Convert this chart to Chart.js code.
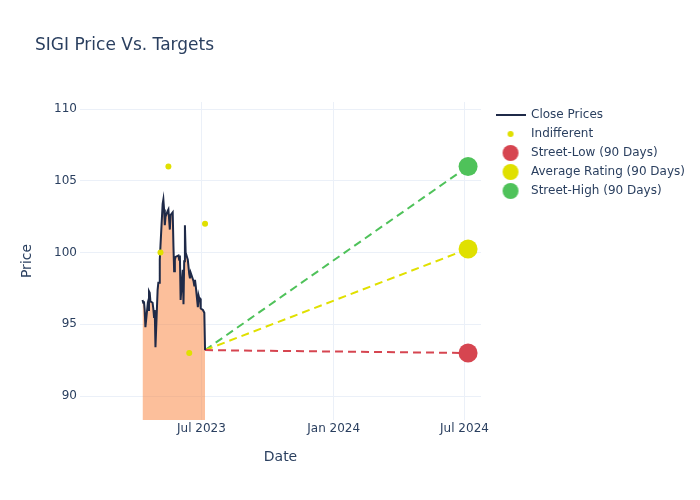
<!DOCTYPE html>
<html>
<head>
<meta charset="utf-8">
<script src="https://cdn.jsdelivr.net/npm/chart.js@4"></script>
<style>
  body { margin: 0; background: #fff; }
  #wrap { width: 700px; height: 500px; }
</style>
</head>
<body>
<div id="wrap"><canvas id="chart" width="700" height="500"></canvas></div>
<script>
// close prices (daily)
const closeDates = [
  '2023-04-10','2023-04-11','2023-04-12','2023-04-13','2023-04-14',
  '2023-04-17','2023-04-18','2023-04-19','2023-04-20','2023-04-21',
  '2023-04-24','2023-04-25','2023-04-26','2023-04-27','2023-04-28',
  '2023-05-01','2023-05-02','2023-05-03','2023-05-04','2023-05-05',
  '2023-05-08','2023-05-09','2023-05-10','2023-05-11','2023-05-12',
  '2023-05-15','2023-05-16','2023-05-17','2023-05-18','2023-05-19',
  '2023-05-22','2023-05-23','2023-05-24','2023-05-25','2023-05-26',
  '2023-05-30','2023-05-31','2023-06-01','2023-06-02',
  '2023-06-05','2023-06-06','2023-06-07','2023-06-08','2023-06-09',
  '2023-06-12','2023-06-13','2023-06-14','2023-06-15','2023-06-16',
  '2023-06-20','2023-06-21','2023-06-22','2023-06-23',
  '2023-06-26','2023-06-27','2023-06-28','2023-06-29','2023-06-30',
  '2023-07-03','2023-07-05','2023-07-06'
];
const closePrices = [
  96.7, 96.5, 96.6, 96.0, 94.8,
  96.3, 96.0, 97.3, 97.2, 96.6,
  96.5, 96.1, 95.5, 96.0, 93.4,
  97.4, 97.9, 97.9, 99.5, 100.5,
  103.4, 103.7, 103.0, 101.9, 102.5,
  102.9, 103.0, 102.3, 101.6, 102.6,
  102.8, 100.5, 98.7, 99.5, 99.7,
  99.8, 99.5, 99.8, 96.7,
  98.8, 96.4, 99.4, 101.9, 100.0,
  99.5, 99.0, 98.5, 98.2, 98.6,
  98.0, 97.7, 98.1, 97.7,
  96.2, 97.0, 96.8, 96.8, 96.1,
  96.0, 95.8, 93.2
];

// analyst ratings
const indifferentDates = ['2023-05-05', '2023-05-16', '2023-06-14', '2023-07-06'];
const indifferentTargets = [100, 106, 93, 102];

// 90 day targets
const targetDate = '2024-07-06';
const streetLow = 93;
const avgRating = 100.25;
const streetHigh = 106;

const xTickDates = ['2023-07-01', '2024-01-01', '2024-07-01'];
const xTickLabels = ['Jul 2023', 'Jan 2024', 'Jul 2024'];
const yTicks = [90, 95, 100, 105, 110];

const textColor = '#2a3f5f';
const gridColor = '#ebf0f8';
const lineColor = '#1f2a48';
const red = '#d64550';
const yellow = '#e0e000';
const green = '#4fc25a';

Chart.defaults.font.family = 'DejaVu Sans';
Chart.defaults.color = textColor;

function t(d) { return Date.parse(d); }

function dot(r, color) {
  let c = document.createElement('canvas');
  c.width = r * 2 + 2; c.height = r * 2 + 2;
  let g = c.getContext('2d');
  g.fillStyle = color;
  g.beginPath();
  g.arc(r + 1, r + 1, r, 0, Math.PI * 2);
  g.fill();
  return c;
}
function lineIcon(color) {
  let c = document.createElement('canvas');
  c.width = 30; c.height = 4;
  let g = c.getContext('2d');
  g.fillStyle = color;
  g.fillRect(0, 1, 30, 2);
  return c;
}
const legendIcons = [lineIcon(lineColor), dot(3, yellow), dot(8, red), dot(8, yellow), dot(8, green)];

const lastDate = closeDates[closeDates.length - 1];
const lastClose = closePrices[closePrices.length - 1];

function targetLine(val, color) {
  return {
    label: '',
    data: [{x: t(lastDate), y: lastClose}, {x: t(targetDate), y: val}],
    borderColor: color,
    borderWidth: 2,
    borderDash: [8, 5],
    pointRadius: 0,
    fill: false,
    order: 3,
    inLegend: false
  };
}
function targetPoint(label, val, color) {
  return {
    label: label,
    data: [{x: t(targetDate), y: val}],
    showLine: false,
    pointRadius: 9.5,
    pointHoverRadius: 9.5,
    pointBackgroundColor: color,
    pointBorderWidth: 0,
    borderColor: color,
    backgroundColor: color,
    order: 1
  };
}

const titlePlugin = {
  id: 'plotTitle',
  afterDraw(chart) {
    const ctx = chart.ctx;
    ctx.save();
    ctx.font = '17px "DejaVu Sans"';
    ctx.fillStyle = textColor;
    ctx.textBaseline = 'middle';
    ctx.fillText('SIGI Price Vs. Targets', 35, 46);
    ctx.restore();
  }
};

new Chart(document.getElementById('chart').getContext('2d'), {
  type: 'line',
  data: {
    datasets: [
      {
        label: 'Close Prices',
        data: closeDates.map((d, i) => ({x: t(d), y: closePrices[i]})),
        borderColor: lineColor,
        borderWidth: 2,
        backgroundColor: 'rgba(249,127,55,0.5)',
        fill: 'start',
        pointRadius: 0,
        tension: 0,
        order: 2
      },
      {
        label: 'Indifferent',
        data: indifferentDates.map((d, i) => ({x: t(d), y: indifferentTargets[i]})),
        showLine: false,
        pointRadius: 3,
        pointBackgroundColor: yellow,
        pointBorderWidth: 0,
        borderColor: yellow,
        backgroundColor: yellow,
        order: 0
      },
      targetPoint('Street-Low (90 Days)', streetLow, red),
      targetPoint('Average Rating (90 Days)', avgRating, yellow),
      targetPoint('Street-High (90 Days)', streetHigh, green),
      targetLine(streetLow, red),
      targetLine(avgRating, yellow),
      targetLine(streetHigh, green)
    ]
  },
  options: {
    responsive: false,
    animation: false,
    layout: { padding: { top: 102, left: 0, right: 5, bottom: 0 } },
    plugins: {
      tooltip: { enabled: false },
      legend: {
        position: 'right',
        align: 'start',
        maxWidth: 212,
        labels: {
          usePointStyle: true,
          pointStyleWidth: 29,
          boxHeight: 12,
          padding: 7,
          color: textColor,
          font: { size: 12 },
          sort: (a, b) => a.datasetIndex - b.datasetIndex,
          filter: (item, data) => data.datasets[item.datasetIndex].inLegend !== false,
          generateLabels(chart) {
            const items = Chart.defaults.plugins.legend.labels.generateLabels(chart);
            items.forEach(it => {
              if (it.datasetIndex < legendIcons.length) it.pointStyle = legendIcons[it.datasetIndex];
            });
            return items;
          }
        }
      }
    },
    scales: {
      x: {
        type: 'linear',
        min: t('2023-01-13'),
        max: t('2024-07-24'),
        afterBuildTicks: s => { s.ticks = xTickDates.map(d => ({value: t(d)})); },
        afterFit: s => { s.height = 80; },
        ticks: {
          autoSkip: false,
          maxRotation: 0,
          padding: 2,
          font: { size: 12 },
          callback: (v, i) => xTickLabels[i]
        },
        grid: { color: gridColor, drawTicks: false },
        border: { display: false },
        title: { display: true, text: 'Date', font: { size: 14 }, padding: { top: 4, bottom: 34 } }
      },
      y: {
        min: 88.33,
        max: 110.49,
        afterBuildTicks: s => { s.ticks = yTicks.map(v => ({value: v})); },
        afterFit: s => { s.width = 80; },
        ticks: { padding: 3, font: { size: 12 }, callback: v => v },
        grid: { color: gridColor, drawTicks: false },
        border: { display: false },
        title: { display: true, text: 'Price', font: { size: 14 }, padding: { top: 19, bottom: 0 } }
      },
      gap: {
        type: 'linear',
        position: 'right',
        display: true,
        ticks: { display: false },
        grid: { display: false },
        border: { display: false },
        afterFit: s => { s.width = 8; }
      }
    }
  },
  plugins: [titlePlugin]
});
</script>
</body>
</html>
